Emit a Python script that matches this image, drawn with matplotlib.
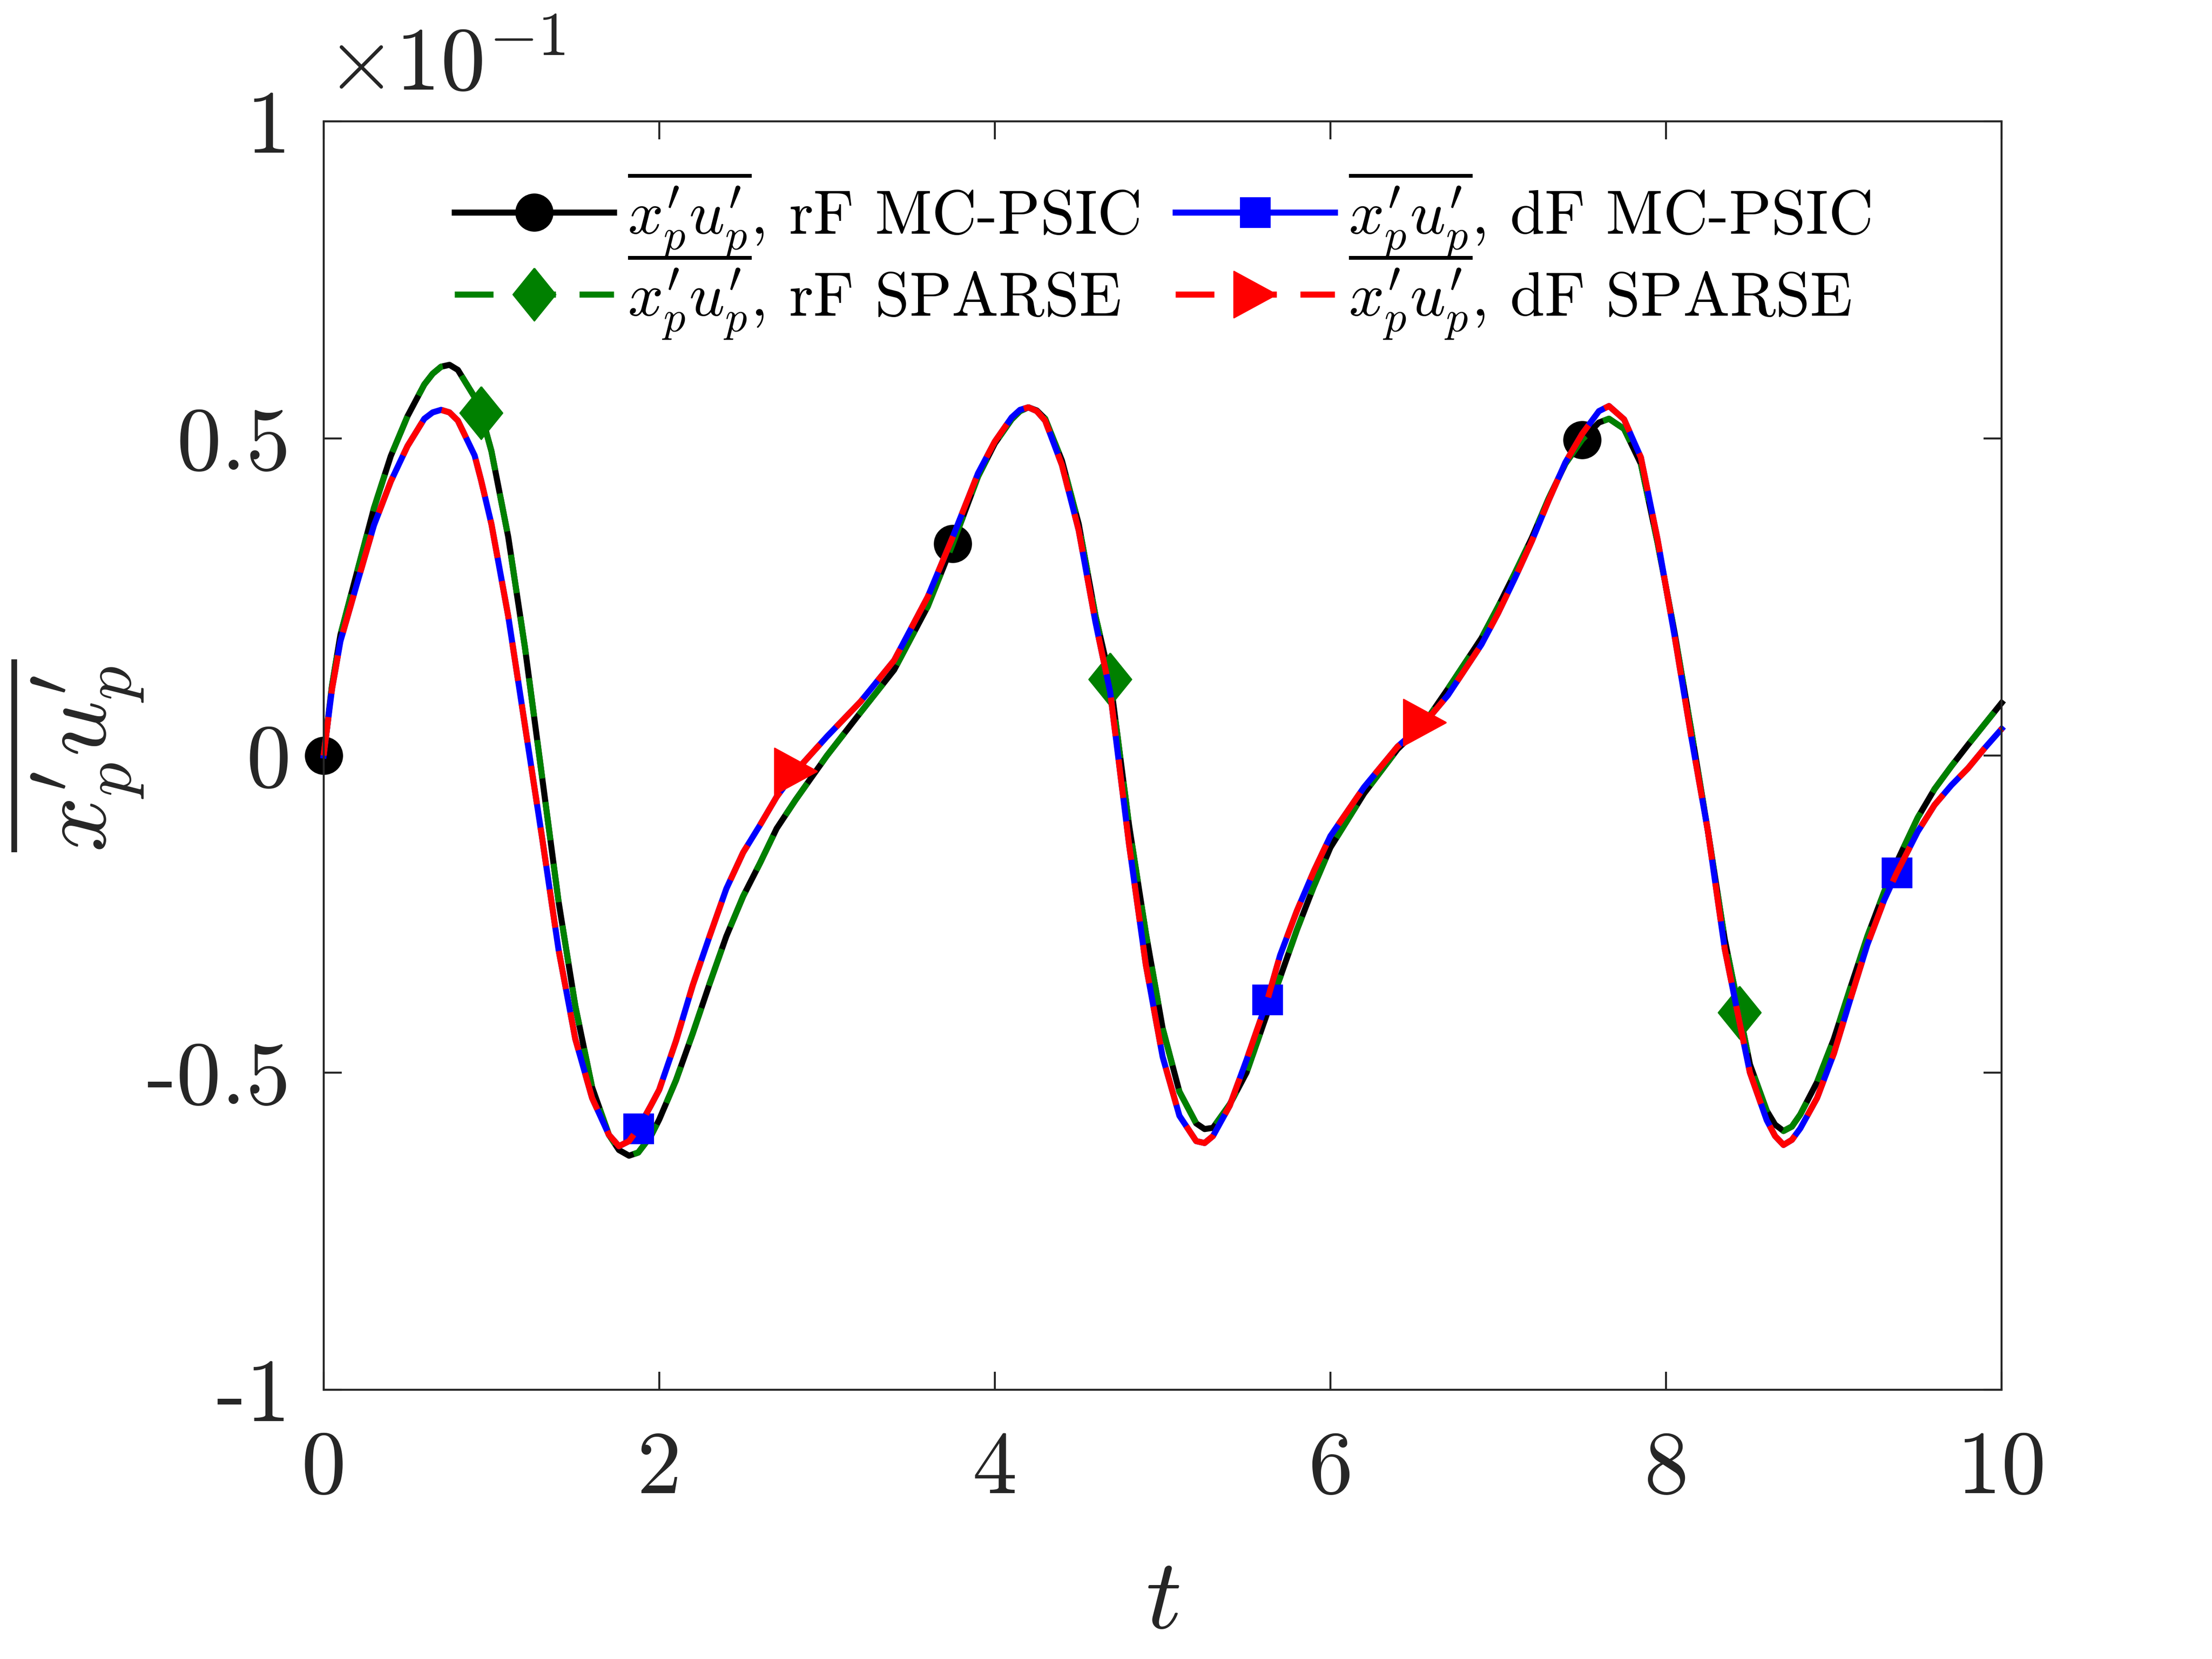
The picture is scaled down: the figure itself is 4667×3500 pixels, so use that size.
import numpy as np
import matplotlib
matplotlib.use('Agg')
import matplotlib.pyplot as plt

plt.rcParams['font.family'] = 'cmr10'
plt.rcParams['mathtext.fontset'] = 'cm'
plt.rcParams['axes.unicode_minus'] = False

# time samples (includes the marker positions)
t = [0, 0.05, 0.1, 0.2, 0.3, 0.4, 0.5, 0.6, 0.65, 0.7,
     0.75, 0.8, 0.9, 0.9375, 1.0, 1.1, 1.2, 1.3, 1.4, 1.5,
     1.6, 1.7, 1.76, 1.82, 1.875, 1.95, 2.0, 2.1, 2.2, 2.3,
     2.4, 2.5, 2.6, 2.7, 2.8125, 3.0, 3.2, 3.4, 3.6, 3.75,
     3.9, 4.0, 4.1, 4.15, 4.2, 4.25, 4.3, 4.4, 4.5, 4.6,
     4.6875, 4.8, 4.9, 5.0, 5.1, 5.2, 5.25, 5.3, 5.4, 5.5,
     5.625, 5.7, 5.8, 5.9, 6.0, 6.2, 6.4, 6.5625, 6.7, 6.9,
     7.0, 7.1, 7.2, 7.3, 7.4, 7.5, 7.6, 7.66, 7.75, 7.85,
     7.95, 8.05, 8.15, 8.25, 8.35, 8.4375, 8.5, 8.6, 8.65, 8.7,
     8.75, 8.8, 8.9, 9.0, 9.1, 9.2, 9.3, 9.375, 9.5, 9.6,
     9.7, 9.8, 9.9, 10.0]

# x'u' (x 1e-1), rF runs (MC-PSIC and SPARSE lie on top of each other)
rf = [0, 0.11, 0.19, 0.29, 0.39, 0.472, 0.535, 0.585, 0.602, 0.613,
      0.616, 0.608, 0.565, 0.54, 0.48, 0.345, 0.17, -0.03, -0.23, -0.395,
      -0.523, -0.598, -0.622, -0.631, -0.626, -0.60, -0.574, -0.512, -0.438, -0.36,
      -0.285, -0.222, -0.17, -0.115, -0.07, 0.0, 0.068, 0.135, 0.235, 0.334,
      0.44, 0.492, 0.53, 0.543, 0.549, 0.544, 0.531, 0.465, 0.365, 0.22,
      0.12, -0.11, -0.28, -0.43, -0.53, -0.58, -0.589, -0.587, -0.55, -0.50,
      -0.405, -0.35, -0.275, -0.207, -0.145, -0.06, 0.01, 0.052, 0.105, 0.185,
      0.235, 0.288, 0.343, 0.405, 0.46, 0.498, 0.525, 0.531, 0.515, 0.46,
      0.335, 0.195, 0.04, -0.12, -0.29, -0.405, -0.487, -0.56, -0.582, -0.592,
      -0.585, -0.566, -0.515, -0.447, -0.365, -0.285, -0.215, -0.168, -0.098, -0.053,
      -0.017, 0.017, 0.05, 0.083]

# dF runs
df = [0, 0.105, 0.18, 0.272, 0.363, 0.432, 0.488, 0.531, 0.541, 0.545,
      0.541, 0.528, 0.473, 0.435, 0.365, 0.22, 0.047, -0.126, -0.306, -0.447,
      -0.54, -0.598, -0.616, -0.608, -0.588, -0.552, -0.527, -0.45, -0.362, -0.285,
      -0.21, -0.153, -0.11, -0.065, -0.025, 0.03, 0.085, 0.15, 0.25, 0.345,
      0.445, 0.495, 0.533, 0.545, 0.549, 0.543, 0.528, 0.458, 0.355, 0.21,
      0.1, -0.14, -0.33, -0.475, -0.568, -0.608, -0.611, -0.60, -0.552, -0.48,
      -0.385, -0.315, -0.245, -0.183, -0.127, -0.05, 0.014, 0.052, 0.095, 0.175,
      0.225, 0.28, 0.338, 0.402, 0.462, 0.507, 0.543, 0.551, 0.53, 0.47,
      0.34, 0.19, 0.03, -0.12, -0.305, -0.42, -0.5, -0.575, -0.6, -0.614,
      -0.606, -0.588, -0.54, -0.47, -0.383, -0.298, -0.228, -0.185, -0.12, -0.078,
      -0.047, -0.02, 0.012, 0.042]

mark_circle = [0, 3.75, 7.5]
mark_diamond = [0.9375, 4.6875, 8.4375]
mark_square = [1.875, 5.625, 9.375]
mark_tri = [2.8125, 6.5625]

labels = [r'$\overline{x^\prime_p u^\prime_p}$, rF MC-PSIC',
          r'$\overline{x^\prime_p u^\prime_p}$, rF SPARSE',
          r'$\overline{x^\prime_p u^\prime_p}$, dF MC-PSIC',
          r'$\overline{x^\prime_p u^\prime_p}$, dF SPARSE']


def idx(times):
    return [int(np.argmin(np.abs(np.array(t) - m))) for m in times]


diamond = [(0, 1), (0.81, 0), (0, -1), (-0.81, 0), (0, 1)]
tri = [(0.92, 0), (-0.92, 1), (-0.92, -1), (0.92, 0)]

W, H = 4667, 3500
fig = plt.figure(figsize=(W / 400, H / 400), dpi=400)
ax = fig.add_axes([0.1463, 0.1623, 0.7586, 0.7646])

lw = 2.3
dash = (6.4, 3.9)
ax.plot(t, rf, color='k', lw=lw, marker='o', ms=14, mew=0.5,
        markevery=idx(mark_circle), clip_on=False, label=labels[0])
ax.plot(t, rf, color='#008000', lw=lw, dashes=dash, marker=diamond, ms=20, mew=0.5,
        markevery=idx(mark_diamond), clip_on=False, label=labels[1])
ax.plot(t, df, color='b', lw=lw, marker='s', ms=11.3, mew=0.5,
        markevery=idx(mark_square), clip_on=False, label=labels[2])
ax.plot(t, df, color='r', lw=lw, dashes=dash, marker=tri, ms=17.6, mew=0.5,
        markevery=idx(mark_tri), clip_on=False, label=labels[3])

ax.set_xlim(0, 10)
ax.set_ylim(-1, 1)
ax.set_xticks([0, 2, 4, 6, 8, 10])
ax.set_xticklabels(['0', '2', '4', '6', '8', '10'])
ax.set_yticks([-1, -0.5, 0, 0.5, 1])
ax.set_yticklabels(['-1', '-0.5', '0', '0.5', '1'])

axcol = '#262626'
for s in ax.spines.values():
    s.set_linewidth(0.75)
    s.set_color(axcol)
ax.tick_params(axis='both', which='major', direction='in', length=6.8, width=0.75,
               colors=axcol, labelsize=34, top=True, right=True)
ax.tick_params(axis='x', pad=15.5)
ax.tick_params(axis='y', pad=12.4)

ax.set_xlabel(r'$t$', fontsize=38, color=axcol)
ax.xaxis.set_label_coords(0.5, -0.133)
ax.set_ylabel(r'$\overline{x^\prime_p u^\prime_p}$', fontsize=37, color=axcol)
ax.yaxis.set_label_coords(-0.117, 0.5)

ax.text(0.0015, 1.0247, r'$\times10^{-1}$', transform=ax.transAxes, fontsize=34,
        color=axcol, ha='left', va='baseline')

ax.legend(loc='upper center', bbox_to_anchor=(0.5, 0.962), ncol=2, frameon=False,
          fontsize=23.7, handlelength=2.55, handletextpad=0.22, columnspacing=0.58,
          labelspacing=-0.13, borderpad=0, borderaxespad=0)

# keep the whole y label on the canvas, a few pixels from the left edge
fig.canvas.draw()
bb = ax.yaxis.label.get_window_extent(fig.canvas.get_renderer())
ax_w = ax.get_window_extent().width
shift = (12 - bb.x0) / ax_w
ax.yaxis.set_label_coords(-0.117 + shift, 0.5)

fig.savefig('out.png', dpi=400)
